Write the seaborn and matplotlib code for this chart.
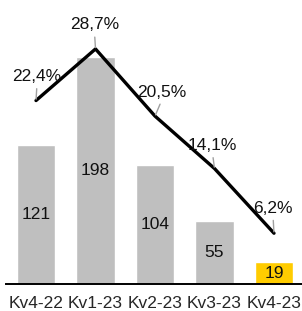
import numpy as np
import matplotlib
matplotlib.use("Agg")
import matplotlib.pyplot as plt
import seaborn as sns

# data
categories = ["Kv4-22", "Kv1-23", "Kv2-23", "Kv3-23", "Kv4-23"]
counts = [121, 198, 104, 55, 19]
share_pct = [22.4, 28.7, 20.5, 14.1, 6.2]
bar_colors = ["#BFBFBF", "#BFBFBF", "#BFBFBF", "#BFBFBF", "#FFCC00"]

sns.set_style("white")
plt.rcParams["font.family"] = ["Liberation Sans", "DejaVu Sans"]
plt.rcParams["font.size"] = 12.5

W, H = 302, 311
fig = plt.figure(figsize=(W / 100, H / 100), dpi=100)
ax = fig.add_axes([6.25 / W, 27 / H, 297.5 / W, 274 / H])

sns.barplot(x=categories, y=counts, hue=categories, palette=bar_colors,
            legend=False, width=0.64, saturation=1, ax=ax)
ax.set_ylim(0, 274 / 1.147)
ax.set_xlim(-0.5, len(categories) - 0.5)

# value labels inside the bars
for i, v in enumerate(counts):
    ax.text(i, v / 2, str(v), ha="center", va="center", fontsize=12.5, color="#111111")

# share line on a second axis
ax2 = ax.twinx()
xs = np.arange(len(categories))
sns.lineplot(x=xs, y=share_pct, ax=ax2, color="black", lw=2.4)
ax2.set_ylim(0, 274 / 8.19)
ax2.set_xlim(-0.5, len(categories) - 0.5)

offsets = [(1, 24), (-1, 24), (7, 24), (-2, 23), (-1, 25)]
for i, (p, off) in enumerate(zip(share_pct, offsets)):
    ax2.annotate(f"{p:.1f}%".replace(".", ","), xy=(i, p), xytext=off,
                 textcoords="offset pixels", ha="center", va="center",
                 fontsize=12.5, color="#111111",
                 arrowprops=dict(arrowstyle="-", color="#A0A0A0", lw=1.0,
                                 relpos=(0.5, 0), shrinkA=1, shrinkB=1))

for a in (ax, ax2):
    for s in ("top", "right", "left"):
        a.spines[s].set_visible(False)
    a.set_yticks([])
    a.set_ylabel("")
ax.spines["bottom"].set_visible(True)
ax.spines["bottom"].set_color("black")
ax.spines["bottom"].set_linewidth(1.4)
ax2.spines["bottom"].set_visible(False)
ax.tick_params(axis="x", length=0, pad=8.5, labelsize=12.5)
ax.set_xlabel("")

fig.savefig("out.png", dpi=100)
